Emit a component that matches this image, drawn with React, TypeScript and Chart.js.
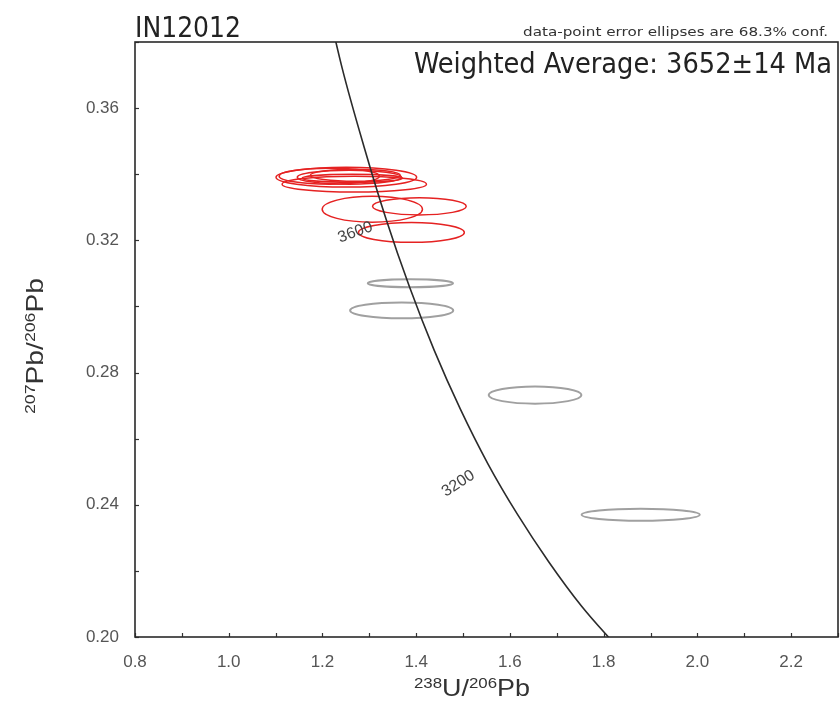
import React, { useEffect, useRef } from "react";
import { Chart, registerables } from "chart.js";

Chart.register(...registerables);

// Concordia curve (age in Ma -> 238U/206Pb, 207Pb/206Pb)
const concordiaAges = [3900, 3800, 3700, 3600, 3500, 3400, 3300, 3200, 3100, 3000, 2900, 2800];
const concordiaX = [1.2, 1.242, 1.2885, 1.336, 1.386, 1.4385, 1.494, 1.553, 1.6165, 1.683, 1.753, 1.83];
const concordiaY = [0.3977, 0.3721, 0.3484, 0.3263, 0.3058, 0.2867, 0.269, 0.2524, 0.237, 0.2227, 0.2093, 0.1968];

// Included analyses (red error ellipses): centre and half-axes
const keptX = [1.2509, 1.2679, 1.2573, 1.2701, 1.2145, 1.2637, 1.3064, 1.4068, 1.3897];
const keptY = [0.3391, 0.337, 0.3391, 0.3397, 0.3394, 0.3388, 0.3294, 0.3303, 0.3224];
const keptSx = [0.15, 0.154, 0.111, 0.096, 0.107, 0.107, 0.107, 0.1, 0.113];
const keptSy = [0.003, 0.0024, 0.0021, 0.0018, 0.0024, 0.0012, 0.0039, 0.0026, 0.003];

// Excluded analyses (grey error ellipses)
const rejectedX = [1.3876, 1.369, 1.6536, 1.879];
const rejectedY = [0.307, 0.2988, 0.2732, 0.237];
const rejectedSx = [0.091, 0.11, 0.099, 0.126];
const rejectedSy = [0.0012, 0.0024, 0.0026, 0.0018];

// Age labels on the concordia
const ageLabels = ["3600", "3200"];
const ageLabelX = [1.27, 1.49];
const ageLabelY = [0.3224, 0.2464];

const xMajorTicks = ["0.8", "1.0", "1.2", "1.4", "1.6", "1.8", "2.0", "2.2"];
const yMajorTicks = ["0.20", "0.24", "0.28", "0.32", "0.36"];

const sampleName = "IN12012";
const noteText = "data-point error ellipses are 68.3% conf.";
const resultText = "Weighted Average: 3652\u00b114 Ma";

const NARROW = '"Liberation Sans Narrow", "DejaVu Sans Condensed", "Liberation Sans", Arial, sans-serif';
const SANS = '"Liberation Sans", Arial, Helvetica, sans-serif';

type Run = { t: string; size: number; up: number };

function drawRuns(ctx: CanvasRenderingContext2D, runs: Run[], family: string, x: number, y: number, align: "left" | "center" | "right", width?: number, color = "#222") {
  ctx.save();
  let total = 0;
  const widths = runs.map((r) => {
    ctx.font = `${r.size}px ${family}`;
    const w = ctx.measureText(r.t).width;
    total += w;
    return w;
  });
  const s = width ? width / total : 1;
  const drawn = total * s;
  const start = align === "left" ? x : align === "center" ? x - drawn / 2 : x - drawn;
  ctx.translate(start, y);
  ctx.scale(s, 1);
  ctx.fillStyle = color;
  ctx.textAlign = "left";
  ctx.textBaseline = "alphabetic";
  let cx = 0;
  runs.forEach((r, i) => {
    ctx.font = `${r.size}px ${family}`;
    ctx.fillText(r.t, cx, -r.up);
    cx += widths[i];
  });
  ctx.restore();
}

const decorPlugin = {
  id: "decor",
  beforeDatasetsDraw(chart: any) {
    const { ctx, chartArea, scales } = chart;
    const xs = scales.x;
    const ys = scales.y;
    ctx.save();
    ctx.beginPath();
    ctx.rect(chartArea.left, chartArea.top, chartArea.right - chartArea.left, chartArea.bottom - chartArea.top);
    ctx.clip();
    const drawSet = (X: number[], Y: number[], SX: number[], SY: number[], color: string, lw: number) => {
      ctx.strokeStyle = color;
      ctx.lineWidth = lw;
      X.forEach((vx, i) => {
        const cx = xs.getPixelForValue(vx);
        const cy = ys.getPixelForValue(Y[i]);
        const rx = Math.abs(xs.getPixelForValue(vx + SX[i]) - cx);
        const ry = Math.abs(ys.getPixelForValue(Y[i] + SY[i]) - cy);
        ctx.beginPath();
        ctx.ellipse(cx, cy, rx, ry, 0, 0, Math.PI * 2);
        ctx.stroke();
      });
    };
    drawSet(rejectedX, rejectedY, rejectedSx, rejectedSy, "#a0a0a0", 2);
    drawSet(keptX, keptY, keptSx, keptSy, "#e52222", 1.5);
    ctx.restore();
  },
  afterDraw(chart: any) {
    const { ctx, chartArea, scales } = chart;
    const xs = scales.x;
    const ys = scales.y;
    ctx.save();
    // tick marks inside the frame
    ctx.strokeStyle = "#333";
    ctx.lineWidth = 1.2;
    xs.ticks.forEach((t: any) => {
      const px = Math.round(xs.getPixelForValue(t.value)) + 0.5;
      ctx.beginPath();
      ctx.moveTo(px, chartArea.bottom);
      ctx.lineTo(px, chartArea.bottom - 4);
      ctx.stroke();
    });
    ys.ticks.forEach((t: any) => {
      const py = Math.round(ys.getPixelForValue(t.value)) + 0.5;
      ctx.beginPath();
      ctx.moveTo(chartArea.left, py);
      ctx.lineTo(chartArea.left + 4, py);
      ctx.stroke();
    });
    // frame
    ctx.strokeStyle = "#2a2a2a";
    ctx.lineWidth = 1.6;
    ctx.strokeRect(chartArea.left, chartArea.top, chartArea.right - chartArea.left, chartArea.bottom - chartArea.top);

    // age labels on concordia
    const angles = [-20, -33];
    ageLabels.forEach((lab, i) => {
      ctx.save();
      ctx.translate(xs.getPixelForValue(ageLabelX[i]), ys.getPixelForValue(ageLabelY[i]));
      ctx.rotate((angles[i] * Math.PI) / 180);
      ctx.font = `16px ${SANS}`;
      ctx.fillStyle = "#444";
      ctx.textAlign = "center";
      ctx.textBaseline = "middle";
      ctx.fillText(lab, 0, 0);
      ctx.restore();
    });
    ctx.restore();

    // header texts
    drawRuns(ctx, [{ t: sampleName, size: 29, up: 0 }], NARROW, 135, 37, "left", 106, "#222");
    drawRuns(ctx, [{ t: noteText, size: 12, up: 0 }], NARROW, 828, 36, "right", 305, "#333");
    drawRuns(ctx, [{ t: resultText, size: 28, up: 0 }], NARROW, 832, 73, "right", 418, "#222");

    // x axis title
    drawRuns(
      ctx,
      [
        { t: "238", size: 15, up: 8 },
        { t: "U/", size: 24, up: 0 },
        { t: "206", size: 15, up: 8 },
        { t: "Pb", size: 24, up: 0 },
      ],
      SANS,
      472,
      696,
      "center",
      116,
      "#333"
    );
    // y axis title (rotated)
    ctx.save();
    ctx.translate(43, 346);
    ctx.rotate(-Math.PI / 2);
    drawRuns(
      ctx,
      [
        { t: "207", size: 15, up: 8 },
        { t: "Pb/", size: 24, up: 0 },
        { t: "206", size: 15, up: 8 },
        { t: "Pb", size: 24, up: 0 },
      ],
      SANS,
      0,
      0,
      "center",
      136,
      "#333"
    );
    ctx.restore();
  },
};

export default function App() {
  const canvasRef = useRef<HTMLCanvasElement | null>(null);

  useEffect(() => {
    if (!canvasRef.current) return;
    const curve = concordiaX.map((x, i) => ({ x, y: concordiaY[i], age: concordiaAges[i] }));
    const chart = new Chart(canvasRef.current, {
      type: "scatter",
      data: {
        datasets: [
          {
            label: "Concordia",
            data: curve,
            showLine: true,
            borderColor: "#2b2b2b",
            borderWidth: 1.6,
            pointRadius: 0,
            cubicInterpolationMode: "monotone",
            fill: false,
          } as any,
        ],
      },
      options: {
        responsive: false,
        animation: false,
        events: [],
        layout: { padding: { left: 0, right: 2, top: 42, bottom: 0 } },
        plugins: { legend: { display: false }, tooltip: { enabled: false }, title: { display: false } },
        scales: {
          x: {
            type: "linear",
            min: 0.8,
            max: 2.3,
            grid: { display: false, drawTicks: false },
            border: { display: false },
            ticks: {
              stepSize: 0.1,
              padding: 15,
              color: "#555",
              font: { size: 17, family: SANS },
              maxRotation: 0,
              autoSkip: false,
              callback: (v: any) => {
                const s = Number(v).toFixed(1);
                return xMajorTicks.includes(s) ? s : "";
              },
            },
            afterFit: (scale: any) => {
              scale.height = 68;
              scale.paddingLeft = 0;
              scale.paddingRight = 0;
            },
          },
          y: {
            type: "linear",
            min: 0.2,
            max: 0.38,
            grid: { display: false, drawTicks: false },
            border: { display: false },
            ticks: {
              stepSize: 0.02,
              padding: 16,
              color: "#555",
              font: { size: 17, family: SANS },
              autoSkip: false,
              callback: (v: any) => {
                const s = Number(v).toFixed(2);
                return yMajorTicks.includes(s) ? s : "";
              },
            },
            afterFit: (scale: any) => {
              scale.width = 135;
              scale.paddingTop = 0;
              scale.paddingBottom = 0;
            },
          },
        },
      },
      plugins: [decorPlugin],
    });
    return () => chart.destroy();
  }, []);

  return (
    <div style={{ position: "absolute", left: 0, top: 0, width: 840, height: 705, background: "#fff" }}>
      <canvas ref={canvasRef} width={840} height={705} style={{ display: "block" }} />
    </div>
  );
}
